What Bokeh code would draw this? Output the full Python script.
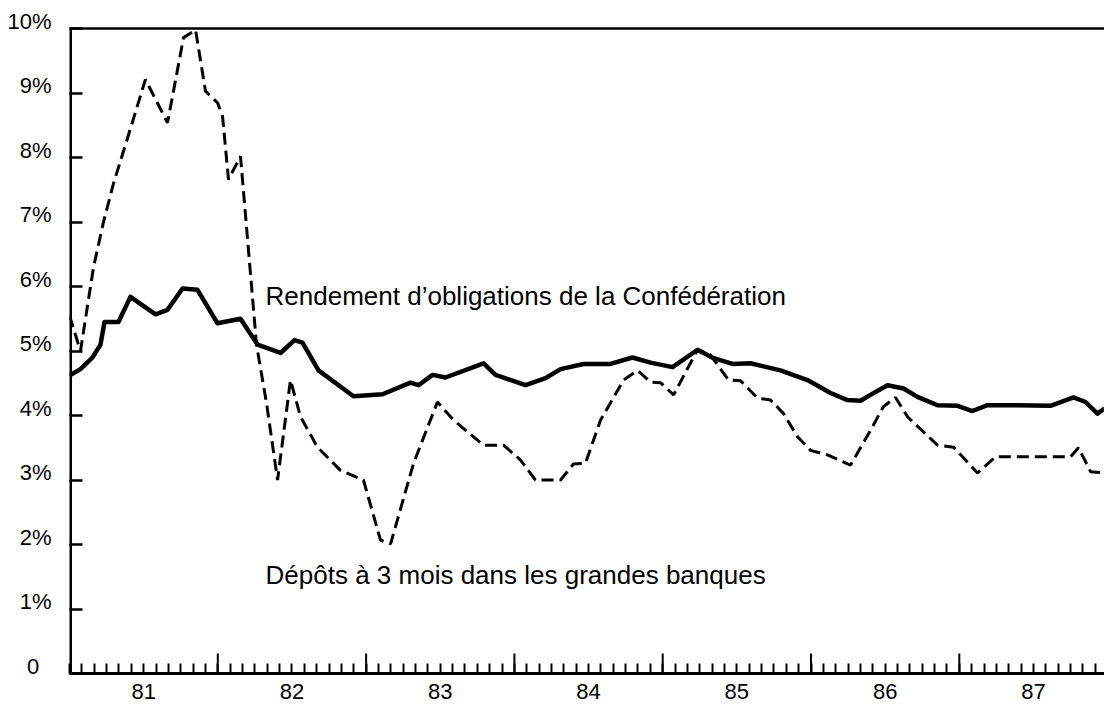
from bokeh.plotting import figure
from bokeh.models import FixedTicker, Range1d, Span
from bokeh.core.properties import value
from bokeh.embed import file_html
from bokeh.resources import INLINE

# ---- data (decimal years, percent) ----
bond_dates = [1981.000, 1981.074, 1981.155, 1981.209, 1981.236, 1981.330, 1981.411, 1981.580,
              1981.661, 1981.762, 1981.863, 1981.998, 1982.153, 1982.268, 1982.423, 1982.517,
              1982.571, 1982.679, 1982.915, 1983.111, 1983.299, 1983.353, 1983.448, 1983.535,
              1983.792, 1983.873, 1984.075, 1984.210, 1984.311, 1984.466, 1984.648, 1984.796,
              1984.918, 1985.066, 1985.235, 1985.343, 1985.471, 1985.592, 1985.794, 1985.976,
              1986.132, 1986.246, 1986.334, 1986.401, 1986.516, 1986.624, 1986.718, 1986.853,
              1986.988, 1987.089, 1987.190, 1987.366, 1987.615, 1987.770, 1987.851, 1987.932,
              1987.979]
bond_yield = [4.62, 4.72, 4.90, 5.10, 5.45, 5.45, 5.84, 5.57, 5.64, 5.97, 5.95, 5.43, 5.50,
              5.10, 4.97, 5.17, 5.13, 4.70, 4.30, 4.33, 4.51, 4.47, 4.63, 4.59, 4.81, 4.63,
              4.47, 4.58, 4.72, 4.80, 4.80, 4.90, 4.82, 4.75, 5.02, 4.89, 4.80, 4.81, 4.70,
              4.55, 4.35, 4.24, 4.23, 4.32, 4.47, 4.42, 4.29, 4.16, 4.15, 4.07, 4.16, 4.16,
              4.15, 4.28, 4.21, 4.03, 4.11]

deposit_dates = [1981.000, 1981.074, 1981.162, 1981.229, 1981.297, 1981.391, 1981.512, 1981.661,
                 1981.769, 1981.850, 1981.917, 1981.998, 1982.032, 1982.072, 1982.153, 1982.261,
                 1982.328, 1982.403, 1982.490, 1982.558, 1982.672, 1982.827, 1982.982, 1983.097,
                 1983.165, 1983.320, 1983.481, 1983.589, 1983.792, 1983.927, 1984.041, 1984.142,
                 1984.311, 1984.399, 1984.479, 1984.581, 1984.736, 1984.830, 1984.918, 1984.985,
                 1985.073, 1985.235, 1985.322, 1985.403, 1985.444, 1985.525, 1985.639, 1985.727,
                 1985.815, 1985.909, 1985.997, 1986.111, 1986.266, 1986.401, 1986.489, 1986.570,
                 1986.651, 1986.853, 1986.961, 1987.123, 1987.244, 1987.750, 1987.804, 1987.885,
                 1987.979]
deposit_rate = [5.55, 5.00, 6.30, 7.00, 7.60, 8.30, 9.21, 8.54, 9.86, 9.98, 9.03, 8.85,
                8.64, 7.66, 8.02, 5.10, 4.20, 3.00, 4.55, 3.98, 3.51, 3.15, 3.00,
                2.07, 2.01, 3.26, 4.21, 3.93, 3.54, 3.54,
                3.31, 3.00, 3.00, 3.25, 3.26, 3.93, 4.55, 4.70, 4.52, 4.51,
                4.32, 5.02, 4.94, 4.68, 4.55, 4.54, 4.27, 4.24, 4.03, 3.67, 3.46,
                3.39, 3.23, 3.77, 4.14, 4.28, 3.98, 3.54, 3.51,
                3.11, 3.36, 3.36, 3.50, 3.13, 3.11]

years = [1981, 1982, 1983, 1984, 1985, 1986, 1987]
year_labels = ["81", "82", "83", "84", "85", "86", "87"]
y_ticks = [0, 1, 2, 3, 4, 5, 6, 7, 8, 9, 10]
y_labels = ["0\u2007", "1%", "2%", "3%", "4%", "5%", "6%", "7%", "8%", "9%", "10%"]

bond_label = "Rendement d\u2019obligations de la Confédération"
deposit_label = "Dépôts à 3 mois dans les grandes banques"

FONT = "Liberation Sans"
LABEL_LIFT = 0.11       # y labels sit just above their tick marks
X_START, X_END = 1981.0, 1987.979
Y_START, Y_END = 0, 10 + LABEL_LIFT

p = figure(width=1104, height=707, output_backend="svg", toolbar_location=None,
           x_range=Range1d(X_START, X_END), y_range=Range1d(Y_START, Y_END),
           min_border_left=69, min_border_right=0, min_border_top=21, min_border_bottom=34)
p.outline_line_color = None
p.xgrid.visible = False
p.ygrid.visible = False
p.background_fill_color = "white"
p.border_fill_color = "white"

# frame lines: top at 10 %, left at the start of 1981
p.add_layout(Span(location=10, dimension="width", line_color="black", line_width=2.5))
p.segment(x0=[X_START], y0=[0], x1=[X_START], y1=[10], line_color="black", line_width=5)

# series
p.line(bond_dates, bond_yield, line_color="black", line_width=4.5, line_join="round")
p.line(deposit_dates, deposit_rate, line_color="black", line_width=3, line_dash="12 6")

# annotations
p.text(x=[1982.322], y=[5.86], text=[bond_label], text_font=value(FONT),
       text_font_size="26px", text_baseline="alphabetic", text_align="left", text_color="black")
p.text(x=[1982.322], y=[1.52], text=[deposit_label], text_font=value(FONT),
       text_font_size="26px", text_baseline="alphabetic", text_align="left", text_color="black")

# x axis: labels centred in each year, monthly minor ticks
xa = p.xaxis[0]
centres = [y + 0.5 for y in years]
xa.ticker = FixedTicker(ticks=centres, minor_ticks=[1981 + m / 12 for m in range(0, 85)])
xa.major_label_overrides = {c: lab for c, lab in zip(centres, year_labels)}
xa.major_tick_line_color = None
xa.minor_tick_in = 10
xa.minor_tick_out = 0
xa.minor_tick_line_width = 2
xa.axis_line_width = 3
xa.major_label_standoff = 4
xa.major_label_text_font = FONT
xa.major_label_text_font_size = "22px"
xa.major_label_text_color = "black"

# longer tick marks at year boundaries
p.segment(x0=years[1:], y0=[0] * 6, x1=years[1:], y1=[0.31] * 6,
          line_color="black", line_width=2)

# y axis: tick marks at whole percents (minor ticks), labels just above them
ya = p.yaxis[0]
label_pos = [t + LABEL_LIFT for t in y_ticks]
ya.ticker = FixedTicker(ticks=label_pos, minor_ticks=y_ticks)
ya.major_label_overrides = {lp: lab for lp, lab in zip(label_pos, y_labels)}
ya.major_tick_line_color = None
ya.minor_tick_in = 13
ya.minor_tick_out = 0
ya.minor_tick_line_width = 2.5
ya.axis_line_color = None
ya.major_label_standoff = 12
ya.major_label_text_font = FONT
ya.major_label_text_font_size = "22px"
ya.major_label_text_color = "black"

open("out.html", "w").write(file_html(p, INLINE))
